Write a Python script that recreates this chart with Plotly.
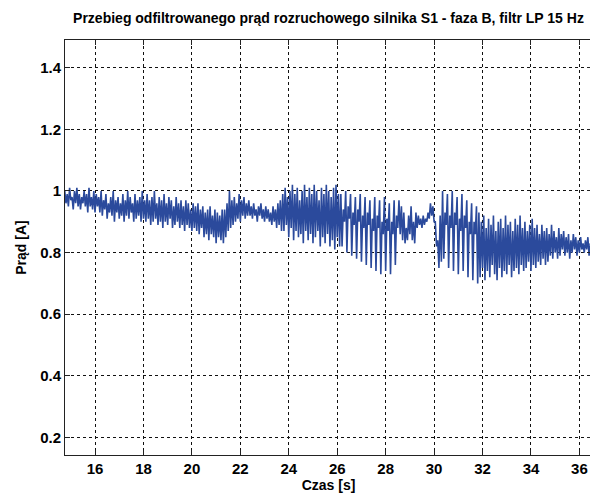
import numpy as np
import plotly.graph_objects as go

# sampling of the read extremes (peak at t, trough half a period later)
t_first_peak = 14.75
period = 0.1

peaks = [
    # 14.75 - 16.05
    1.00, 0.99, 1.01, 0.98, 1.00, 1.01, 0.99, 0.98, 1.00, 0.99, 1.01, 0.98, 1.00, 0.99,
    # 16.15 - 18.05
    0.98, 1.00, 0.97, 0.99, 0.96, 0.98, 1.00, 0.97, 0.98, 0.96, 0.99, 0.97, 1.00, 0.98, 0.96, 0.99, 0.97, 0.98, 1.00, 0.97,
    # 18.15 - 20.05
    0.99, 0.97, 0.98, 1.00, 0.96, 0.98, 0.97, 0.99, 0.96, 0.98, 0.97, 0.95, 0.98, 0.96, 0.97, 0.95, 0.97, 0.96, 0.94, 0.96,
    # 20.15 - 21.25
    0.95, 0.96, 0.94, 0.95, 0.93, 0.94, 0.95, 0.92, 0.94, 0.93, 0.92, 0.94,
    # 21.35 - 22.25
    0.94, 0.96, 1.00, 0.97, 0.98, 0.96, 0.99, 0.97, 0.98, 0.96,
    # 22.35 - 23.65
    0.97, 0.95, 0.96, 0.94, 0.95, 0.96, 0.94, 0.95, 0.94, 0.93, 0.95, 0.94, 0.96, 0.97,
    # 23.75 - 26.05
    0.99, 1.01, 0.98, 1.00, 1.02, 0.99, 1.01, 0.97, 1.00, 1.02, 0.98, 1.01, 0.99, 1.02, 1.00, 0.97, 1.01, 0.99, 1.02, 1.00, 0.98, 1.01, 1.02, 0.99,
    # 26.15 - 28.45
    0.99, 0.94, 1.00, 0.95, 0.99, 0.93, 0.98, 0.94, 0.99, 0.92, 0.98, 0.93, 0.97, 0.91, 0.98, 0.92, 0.97, 0.90, 0.98, 0.91, 0.96, 0.90, 0.97, 0.92,
    # 28.55 - 30.25
    0.97, 0.95, 0.93, 0.88, 0.92, 0.95, 0.90, 0.93, 0.92, 0.91, 0.92, 0.91, 0.93, 0.96, 0.95, 0.90, 0.84, 0.92,
    # 30.35 - 31.75
    1.00, 0.93, 0.99, 0.92, 1.00, 0.93, 0.98, 0.91, 0.99, 0.92, 0.97, 0.90, 0.96, 0.90, 0.95,
    # 31.85 - 34.55
    0.93, 0.90, 0.92, 0.88, 0.91, 0.89, 0.92, 0.87, 0.90, 0.91, 0.88, 0.92, 0.89, 0.90, 0.87, 0.91, 0.89, 0.92, 0.88, 0.90, 0.87, 0.89, 0.91, 0.88, 0.89, 0.86, 0.89, 0.87,
    # 34.65 - 36.55
    0.88, 0.86, 0.89, 0.87, 0.85, 0.88, 0.86, 0.87, 0.85, 0.86, 0.84, 0.86, 0.85, 0.84, 0.85, 0.83, 0.84, 0.85, 0.83, 0.84,
]
troughs = [
    0.96, 0.95, 0.97, 0.94, 0.96, 0.95, 0.94, 0.96, 0.95, 0.93, 0.95, 0.94, 0.93, 0.95,
    0.93, 0.92, 0.94, 0.91, 0.93, 0.92, 0.90, 0.93, 0.91, 0.92, 0.90, 0.92, 0.91, 0.93, 0.90, 0.91, 0.92, 0.90, 0.91, 0.90,
    0.91, 0.89, 0.90, 0.91, 0.89, 0.90, 0.88, 0.90, 0.89, 0.91, 0.88, 0.89, 0.90, 0.88, 0.89, 0.87, 0.89, 0.88, 0.87, 0.88,
    0.87, 0.86, 0.88, 0.85, 0.86, 0.84, 0.86, 0.85, 0.83, 0.85, 0.84, 0.83,
    0.85, 0.87, 0.88, 0.89, 0.90, 0.91, 0.90, 0.92, 0.91, 0.92,
    0.92, 0.91, 0.92, 0.90, 0.92, 0.91, 0.90, 0.91, 0.90, 0.89, 0.90, 0.88, 0.89, 0.87,
    0.87, 0.89, 0.85, 0.88, 0.84, 0.87, 0.85, 0.86, 0.83, 0.87, 0.84, 0.86, 0.83, 0.85, 0.87, 0.82, 0.85, 0.83, 0.86, 0.82, 0.84, 0.81, 0.85, 0.82,
    0.82, 0.90, 0.80, 0.91, 0.79, 0.89, 0.78, 0.90, 0.77, 0.88, 0.76, 0.89, 0.75, 0.87, 0.74, 0.88, 0.73, 0.86, 0.74, 0.87, 0.73, 0.86, 0.76, 0.88,
    0.86, 0.84, 0.83, 0.84, 0.86, 0.84, 0.83, 0.88, 0.89, 0.88, 0.89, 0.90, 0.91, 0.92, 0.90, 0.82, 0.75, 0.77,
    0.78, 0.89, 0.75, 0.88, 0.74, 0.89, 0.73, 0.87, 0.74, 0.88, 0.72, 0.86, 0.71, 0.86, 0.70,
    0.72, 0.75, 0.71, 0.74, 0.72, 0.76, 0.73, 0.71, 0.75, 0.72, 0.74, 0.73, 0.76, 0.72, 0.74, 0.75, 0.73, 0.76, 0.74, 0.75, 0.77, 0.74, 0.76, 0.75, 0.77, 0.76, 0.78, 0.76,
    0.77, 0.79, 0.78, 0.80, 0.78, 0.79, 0.81, 0.79, 0.80, 0.78, 0.80, 0.81, 0.79, 0.80, 0.81, 0.80, 0.81, 0.79, 0.81, 0.80,
]

x_ticks = [16, 18, 20, 22, 24, 26, 28, 30, 32, 34, 36]
y_ticks = [0.2, 0.4, 0.6, 0.8, 1.0, 1.2, 1.4]
y_tick_labels = ["0.2", "0.4", "0.6", "0.8", "1", "1.2", "1.4"]

n = min(len(peaks), len(troughs))
t_peak = t_first_peak + period * np.arange(n)
t = np.empty(2 * n)
y = np.empty(2 * n)
t[0::2] = t_peak
t[1::2] = t_peak + period / 2
y[0::2] = peaks[:n]
y[1::2] = troughs[:n]

font_family = "Liberation Sans, Arial, sans-serif"

fig = go.Figure()
fig.add_trace(go.Scatter(x=t, y=y, mode="lines",
                         line=dict(color="#2b4a9c", width=1.6),
                         showlegend=False, hoverinfo="skip"))

axis_common = dict(
    showline=True, linecolor="#222222", linewidth=1, mirror="ticks",
    ticks="inside", ticklen=5, tickcolor="#222222",
    showgrid=True, gridcolor="#111111", gridwidth=1, griddash="3px,3px",
    zeroline=False, automargin=False,
    tickfont=dict(family=font_family, size=15, color="black", weight="bold"),
)

fig.update_xaxes(range=[14.76, 36.52], tickvals=x_ticks,
                 title=dict(text="<b>Czas [s]</b>", standoff=2,
                            font=dict(family=font_family, size=14, color="black")),
                 **axis_common)
fig.update_yaxes(range=[0.143, 1.49], tickvals=y_ticks, ticktext=y_tick_labels,
                 title=dict(text="<b>Prąd [A]</b>", standoff=10,
                            font=dict(family=font_family, size=14, color="black")),
                 **axis_common)

fig.update_layout(
    width=590, height=489,
    margin=dict(l=57, r=6, t=32, b=42),
    paper_bgcolor="white", plot_bgcolor="white",
    title=dict(text="<b>Przebieg odfiltrowanego prąd rozruchowego silnika S1 - faza B, filtr LP 15 Hz</b>",
               x=0.5, xref="paper", xanchor="center", y=0.98, yanchor="middle",
               font=dict(family=font_family, size=14, color="black")),
)

fig.write_html("out.html")
